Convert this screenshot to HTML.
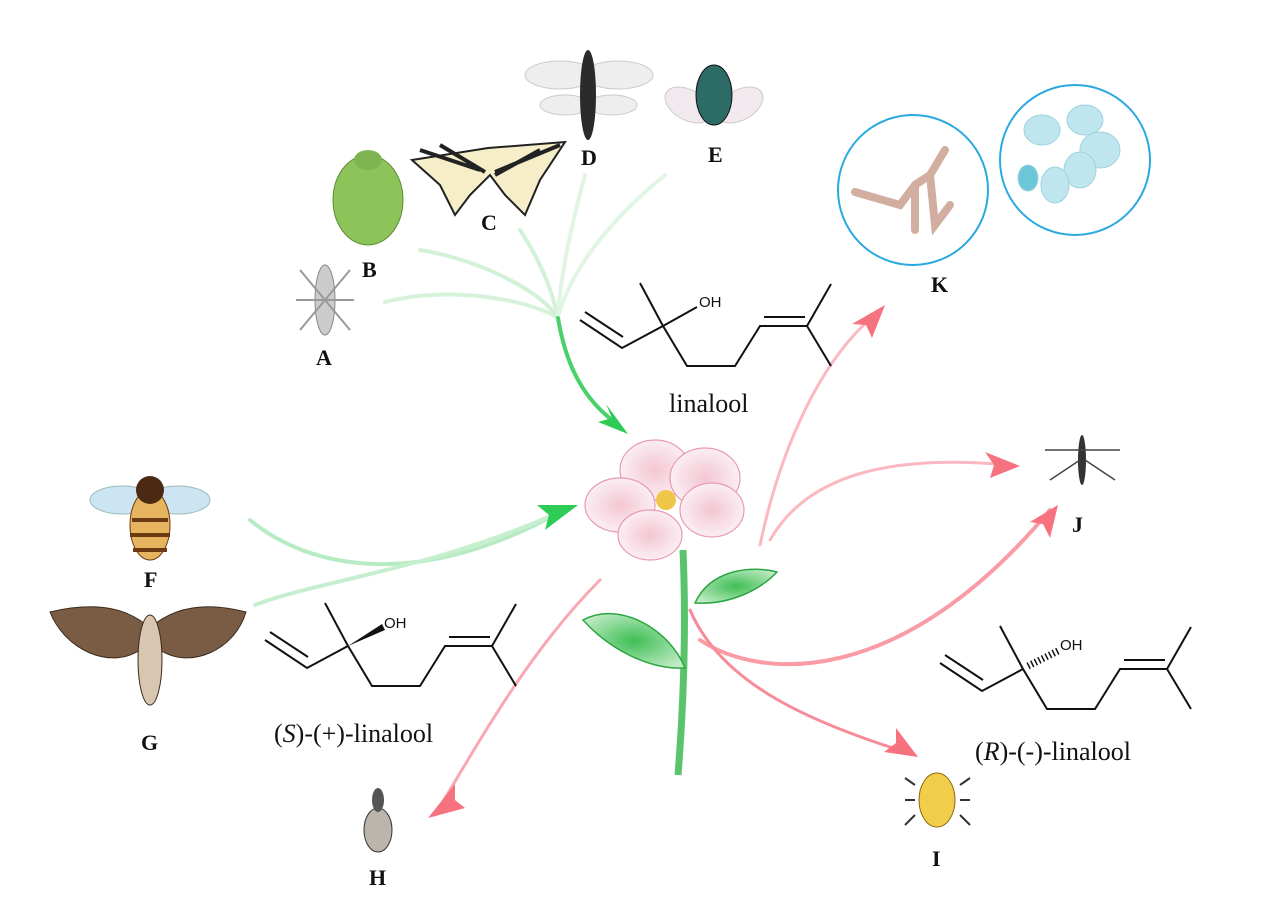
<!DOCTYPE html>
<html><head><meta charset="utf-8"><style>
html,body{margin:0;padding:0;background:#fff}
svg{display:block}
.l{font-family:"Liberation Serif",serif;font-weight:bold;font-size:22px;fill:#111}
.m{stroke:#111;stroke-width:2;fill:none}
.t{font-family:"Liberation Serif",serif;font-size:26px;fill:#111}
.oh{font-family:"Liberation Sans",sans-serif;font-size:15px;fill:#111}
</style></head><body>
<svg width="1266" height="915" viewBox="0 0 1266 915" xmlns="http://www.w3.org/2000/svg">
<defs>
<linearGradient id="gg" x1="0" y1="0" x2="1" y2="1"><stop offset="0" stop-color="#2ecc55" stop-opacity="0.05"/><stop offset="1" stop-color="#2ecc55" stop-opacity="0.9"/></linearGradient>
<radialGradient id="pk" cx="0.5" cy="0.5" r="0.5"><stop offset="0" stop-color="#f3c6d3"/><stop offset="1" stop-color="#fbeef2"/></radialGradient>
<radialGradient id="lf" cx="0.5" cy="0.5" r="0.6"><stop offset="0" stop-color="#3fbf55"/><stop offset="1" stop-color="#bfeac4"/></radialGradient>
</defs>
<!-- green connectors -->
<g fill="none" stroke-width="4" stroke-linecap="round">
<path d="M385 302 C450 285 530 300 558 318" stroke="#d6f2da"/>
<path d="M420 250 C480 260 540 290 558 318" stroke="#d3f1d7"/>
<path d="M520 230 C540 260 552 290 558 318" stroke="#d3f1d7"/>
<path d="M585 175 C570 230 560 280 558 318" stroke="#e0f5e3"/>
<path d="M665 175 C610 220 570 270 558 318" stroke="#e0f5e3"/>
<path d="M558 318 C565 360 580 395 612 420" stroke="#49d06a"/>
<path d="M250 520 C310 570 420 590 560 512" stroke="#b8ebc4"/>
<path d="M255 605 C320 580 430 570 560 512" stroke="#c6efd0"/>
</g>
<polygon points="628,434 598,422 612,418 606,404" fill="#2ecc55"/>
<polygon points="578,505 545,530 549,515 537,505" fill="#2ecc55"/>
<!-- pink connectors -->
<g fill="none" stroke="#f78c98" stroke-width="3" stroke-linecap="round">
<path d="M760 545 C780 450 820 360 875 315" stroke="#fbb8c0"/>
<path d="M770 540 C810 470 900 455 1010 465" stroke="#fbb8c0"/>
<path d="M700 640 C760 680 900 690 1050 510" stroke="#fa9ba6" stroke-width="4"/>
<path d="M690 610 C720 680 800 720 915 755" stroke="#f78c98"/>
<path d="M600 580 C530 650 480 740 435 815" stroke="#f9a7b1"/>
</g>
<polygon points="885,305 872,338 866,325 852,324" fill="#f7727f"/>
<polygon points="1020,466 990,478 994,465 985,452" fill="#f7727f"/>
<polygon points="1058,505 1050,538 1043,524 1030,522" fill="#f7727f"/>
<polygon points="918,757 884,752 896,743 896,728" fill="#f7727f"/>
<polygon points="428,818 465,808 455,800 455,784" fill="#f7727f"/>
<!-- flower -->
<path d="M683 550 C686 620 684 700 678 775" stroke="#5ac36c" stroke-width="7" fill="none"/>
<path d="M583 620 C620 600 670 630 685 668 C650 670 610 650 583 620Z" fill="url(#lf)" stroke="#2aa640" stroke-width="1.5"/>
<path d="M695 603 C710 570 750 565 777 572 C760 590 730 605 695 603Z" fill="url(#lf)" stroke="#2aa640" stroke-width="1.5"/>
<g fill="url(#pk)" stroke="#e89ab0" stroke-width="1.2">
<ellipse cx="655" cy="470" rx="35" ry="30"/>
<ellipse cx="705" cy="478" rx="35" ry="30"/>
<ellipse cx="620" cy="505" rx="35" ry="27"/>
<ellipse cx="712" cy="510" rx="32" ry="27"/>
<ellipse cx="650" cy="535" rx="32" ry="25"/>
</g>
<circle cx="666" cy="500" r="10" fill="#f0c64a"/>
<!-- molecules -->
<g id="mol" class="m">
<path d="M580 320 L622 348 L663 326 L687 366 L735 366 L760 326 L807 326 L831 284 M807 326 L831 366 M663 326 L640 283 M663 326 L697 307"/>
<path d="M585 312 L623 337"/><path d="M764 317 L805 317"/>
</g>
<text class="oh" x="699" y="307">OH</text>
<text class="t" x="669" y="412">linalool</text>
<g class="m" transform="translate(-315,320)">
<path d="M580 320 L622 348 L663 326 L687 366 L735 366 L760 326 L807 326 L831 284 M807 326 L831 366 M663 326 L640 283"/>
<path d="M585 312 L623 337"/><path d="M764 317 L805 317"/>
</g>
<polygon points="348,646 382,624 385,630" fill="#111"/>
<text class="oh" x="384" y="628">OH</text>
<text class="t" x="274" y="742">(<tspan font-style="italic">S</tspan>)-(+)-linalool</text>
<g class="m" transform="translate(360,343)">
<path d="M580 320 L622 348 L663 326 L687 366 L735 366 L760 326 L807 326 L831 284 M807 326 L831 366 M663 326 L640 283"/>
<path d="M585 312 L623 337"/><path d="M764 317 L805 317"/>
</g>
<path d="M1028 666 L1060 650" stroke="#111" stroke-width="7" stroke-dasharray="1.5 2.5" fill="none"/>
<text class="oh" x="1060" y="650">OH</text>
<text class="t" x="975" y="760">(<tspan font-style="italic">R</tspan>)-(-)-linalool</text>
<!-- circles K -->
<circle cx="913" cy="190" r="75" fill="none" stroke="#29a9e0" stroke-width="2"/>
<circle cx="1075" cy="160" r="75" fill="none" stroke="#29a9e0" stroke-width="2"/>
<path d="M855 192 L900 205 L915 185 L930 175 L945 150 M915 185 L915 230 M930 175 L935 225 L950 205" stroke="#d2aea0" stroke-width="8" stroke-linecap="round" fill="none"/>
<g fill="#bfe6ef" stroke="#9cd3df"><ellipse cx="1042" cy="130" rx="18" ry="15"/><ellipse cx="1085" cy="120" rx="18" ry="15"/><ellipse cx="1100" cy="150" rx="20" ry="18"/><ellipse cx="1080" cy="170" rx="16" ry="18"/><ellipse cx="1055" cy="185" rx="14" ry="18"/><ellipse cx="1028" cy="178" rx="10" ry="13" fill="#6cc8d8"/></g>
<!-- insects -->
<g>
<ellipse cx="325" cy="300" rx="10" ry="35" fill="#ccc" stroke="#888"/>
<path d="M300 270 L350 330 M350 270 L300 330 M296 300 L354 300" stroke="#999" stroke-width="2"/>
<ellipse cx="368" cy="200" rx="35" ry="45" fill="#8cc45a" stroke="#5c8e34"/>
<ellipse cx="368" cy="160" rx="14" ry="10" fill="#7fb551"/>
<path d="M412 160 L488 148 L565 142 L540 180 L525 215 L505 195 L490 175 L470 195 L455 215 L440 185 Z" fill="#f6eec8" stroke="#222" stroke-width="2"/>
<path d="M420 150 L480 170 M440 145 L485 172 M560 145 L495 172 M540 150 L495 175" stroke="#222" stroke-width="4"/>
<ellipse cx="560" cy="75" rx="35" ry="14" fill="#eee" stroke="#ccc"/>
<ellipse cx="618" cy="75" rx="35" ry="14" fill="#eee" stroke="#ccc"/>
<ellipse cx="565" cy="105" rx="25" ry="10" fill="#eee" stroke="#ccc"/>
<ellipse cx="612" cy="105" rx="25" ry="10" fill="#eee" stroke="#ccc"/>
<ellipse cx="588" cy="95" rx="8" ry="45" fill="#2b2b2b"/>
<ellipse cx="688" cy="105" rx="25" ry="15" fill="#f2e9ee" stroke="#ccc" transform="rotate(30 688 105)"/>
<ellipse cx="740" cy="105" rx="25" ry="15" fill="#f2e9ee" stroke="#ccc" transform="rotate(-30 740 105)"/>
<ellipse cx="714" cy="95" rx="18" ry="30" fill="#2d6b66" stroke="#111"/>
<ellipse cx="178" cy="500" rx="32" ry="14" fill="#cde4f3" stroke="#9bb"/>
<ellipse cx="122" cy="500" rx="32" ry="14" fill="#cde4f3" stroke="#9bb"/>
<ellipse cx="150" cy="525" rx="20" ry="35" fill="#e6b45e" stroke="#6b3a12"/>
<path d="M132 520 H168 M130 535 H170 M133 550 H167" stroke="#6b3a12" stroke-width="4"/>
<ellipse cx="150" cy="490" rx="14" ry="14" fill="#4a2a12"/>
<path d="M50 612 C100 600 130 610 150 628 C170 610 200 600 246 612 C235 650 190 670 160 650 L150 700 L140 650 C110 670 65 650 50 612Z" fill="#7a5c44" stroke="#3b2a1c"/>
<ellipse cx="150" cy="660" rx="12" ry="45" fill="#d8c6b0" stroke="#3b2a1c"/>
<ellipse cx="378" cy="830" rx="14" ry="22" fill="#bcb5ad" stroke="#333"/>
<ellipse cx="378" cy="800" rx="6" ry="12" fill="#555"/>
<ellipse cx="1082" cy="460" rx="4" ry="25" fill="#333"/>
<path d="M1045 450 L1120 450 M1050 480 L1080 460 M1115 480 L1085 460" stroke="#444" stroke-width="1.5"/>
<ellipse cx="937" cy="800" rx="18" ry="27" fill="#f2cd4a" stroke="#8a6a12"/>
<path d="M915 785 L905 778 M915 800 L905 800 M915 815 L905 825 M960 785 L970 778 M960 800 L970 800 M960 815 L970 825" stroke="#333" stroke-width="2"/>
</g>
<!-- labels -->
<text class="l" x="316" y="365">A</text>
<text class="l" x="362" y="277">B</text>
<text class="l" x="481" y="230">C</text>
<text class="l" x="581" y="165">D</text>
<text class="l" x="708" y="162">E</text>
<text class="l" x="931" y="292">K</text>
<text class="l" x="144" y="587">F</text>
<text class="l" x="141" y="750">G</text>
<text class="l" x="369" y="885">H</text>
<text class="l" x="932" y="866">I</text>
<text class="l" x="1072" y="532">J</text>
</svg>
</body></html>
